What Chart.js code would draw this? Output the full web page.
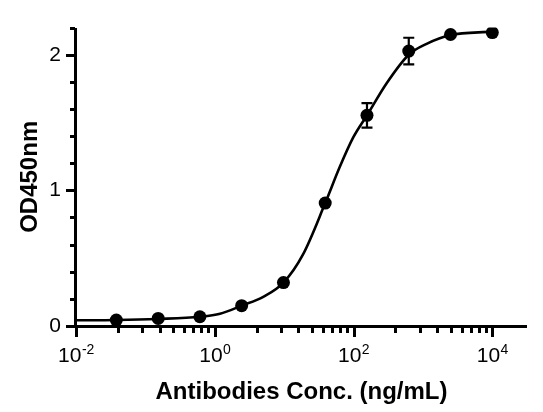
<!DOCTYPE html>
<html><head><meta charset="utf-8">
<script src="https://cdn.jsdelivr.net/npm/chart.js@4.4.0/dist/chart.umd.min.js"></script>
<style>html,body{margin:0;padding:0;background:#fff;overflow:hidden;}</style>
</head><body>
<canvas id="c" width="543" height="412" style="display:block;width:543px;height:412px"></canvas>
<script>
// ---- data ----
const concentrations = [0.0381, 0.153, 0.610, 2.44, 9.77, 39.06, 156.25, 625, 2500, 10000];
const odMeans        = [0.044, 0.056, 0.068, 0.150, 0.320, 0.906, 1.553, 2.027, 2.149, 2.163];
const odErrors       = [0, 0, 0, 0, 0, 0, 0.09, 0.098, 0, 0];
const fitConc = [0.01, 0.0381, 0.153, 0.61, 1.19, 2.44, 5.0, 9.77, 18.8, 39.06, 63, 99, 156.25, 300, 625, 1130, 2500, 10000];
const fitOD   = [0.042, 0.044, 0.052, 0.068, 0.09, 0.15, 0.215, 0.32, 0.53, 0.906, 1.17, 1.39, 1.553, 1.79, 2.0, 2.08, 2.145, 2.17];
const xMajorTicks = [0.01, 1, 100, 10000];
const xTickBase = '10';
const xTickExponents = ['-2', '0', '2', '4'];
const xMinorTicks = [0.04, 0.09, 0.16, 0.25, 0.36, 0.49, 0.64, 0.81,
                     4, 9, 16, 25, 36, 49, 64, 81,
                     400, 900, 1600, 2500, 3600, 4900, 6400, 8100];
const yTicks = [0, 0.2, 0.4, 0.6, 0.8, 1, 1.2, 1.4, 1.6, 1.8, 2, 2.2];
const yTickLabels = ['0', '', '', '', '', '1', '', '', '', '', '2', ''];
const xTitle = 'Antibodies Conc. (ng/mL)';
const yTitle = 'OD450nm';

const FONT = "'Liberation Sans', Arial, Helvetica, sans-serif";

const errorBars = {
  id: 'errorBars',
  afterDatasetsDraw(chart) {
    const ctx = chart.ctx, xs = chart.scales.x, ys = chart.scales.y;
    ctx.save();
    ctx.strokeStyle = '#000';
    ctx.lineWidth = 2.2;
    concentrations.forEach((c, i) => {
      const e = odErrors[i];
      if (!e) return;
      const px = xs.getPixelForValue(c);
      const t = ys.getPixelForValue(odMeans[i] + e);
      const b = ys.getPixelForValue(odMeans[i] - e);
      ctx.beginPath();
      ctx.moveTo(px, t); ctx.lineTo(px, b);
      ctx.moveTo(px - 5.5, t); ctx.lineTo(px + 5.5, t);
      ctx.moveTo(px - 5.5, b); ctx.lineTo(px + 5.5, b);
      ctx.stroke();
    });
    ctx.restore();
  }
};

const axesDecor = {
  id: 'axesDecor',
  afterDraw(chart) {
    const {ctx, chartArea, scales: {x, y}} = chart;
    const L = Math.round(chartArea.left), B = Math.round(chartArea.bottom);
    const T = Math.round(chartArea.top), R = Math.round(chartArea.right);
    ctx.save();
    ctx.fillStyle = '#000';
    // axis lines
    ctx.fillRect(L - 2, T, 3, B - T + 2);
    ctx.fillRect(L - 2, B - 1, R - L + 2, 3);
    // tick marks
    x.ticks.forEach(t => {
      const px = Math.round(x.getPixelForValue(t.value));
      const len = t.major ? 10 : 6;
      ctx.fillRect(px - 1, B, 3, len + 1);
    });
    y.ticks.forEach(t => {
      const py = Math.round(y.getPixelForValue(t.value));
      const len = t.major ? 9 : 5;
      ctx.fillRect(L - 1 - len, py - 1, len, 3);
    });
    // x tick labels: 10 with superscript exponent
    ctx.textBaseline = 'alphabetic';
    ctx.textAlign = 'left';
    const baseFont = '21px ' + FONT, expFont = '14px ' + FONT;
    xMajorTicks.forEach((v, i) => {
      const px = x.getPixelForValue(v);
      ctx.font = baseFont;
      const wb = ctx.measureText(xTickBase).width;
      ctx.font = expFont;
      const we = ctx.measureText(xTickExponents[i]).width;
      const start = px - (wb + we) / 2;
      ctx.font = baseFont;
      ctx.fillText(xTickBase, start, B + 36);
      ctx.font = expFont;
      ctx.fillText(xTickExponents[i], start + wb + 0.5, B + 28);
    });
    ctx.restore();
  }
};

new Chart(document.getElementById('c'), {
  type: 'line',
  data: {
    datasets: [
      {
        data: fitConc.map((c, i) => ({x: c, y: fitOD[i]})),
        borderColor: '#000', borderWidth: 2.6, pointRadius: 0,
        cubicInterpolationMode: 'monotone', fill: false
      },
      {
        data: concentrations.map((c, i) => ({x: c, y: odMeans[i]})),
        showLine: false, pointRadius: 6.5, pointBackgroundColor: '#000',
        pointBorderColor: '#000', pointBorderWidth: 0
      }
    ]
  },
  options: {
    responsive: false, animation: false, devicePixelRatio: 1,
    layout: {padding: {top: 25, right: 16, left: 0, bottom: 0}},
    plugins: {legend: {display: false}, tooltip: {enabled: false}},
    scales: {
      x: {
        type: 'logarithmic', min: 0.01, max: 31622.78, bounds: 'data',
        afterBuildTicks: s => {
          s.ticks = xMajorTicks.map(v => ({value: v, major: true}))
            .concat(xMinorTicks.map(v => ({value: v, major: false})))
            .sort((a, b) => a.value - b.value);
        },
        afterFit: s => { s.height = 86; },
        grid: {display: false, drawTicks: false},
        border: {display: false},
        ticks: {autoSkip: false, maxRotation: 0, minRotation: 0, callback: () => ''},
        title: {display: true, text: xTitle, color: '#000',
          font: {family: FONT, size: 24, weight: 'bold'}, padding: {top: 0, bottom: 5}}
      },
      y: {
        min: 0, max: 2.2,
        afterBuildTicks: s => {
          s.ticks = yTicks.map((v, i) => ({value: v, major: yTickLabels[i] !== ''}));
        },
        afterFit: s => { s.width = 76; },
        grid: {display: false, drawTicks: false},
        border: {display: false},
        ticks: {
          autoSkip: false, padding: 15, color: '#000',
          font: {family: FONT, size: 21},
          callback: function(v) {
            const i = yTicks.findIndex(t => Math.abs(t - v) < 1e-6);
            return i >= 0 ? yTickLabels[i] : '';
          }
        },
        title: {display: true, text: yTitle, color: '#000',
          font: {family: FONT, size: 24, weight: 'bold'}, padding: {top: 16, bottom: 0}}
      }
    }
  },
  plugins: [errorBars, axesDecor]
});
</script>
</body></html>
